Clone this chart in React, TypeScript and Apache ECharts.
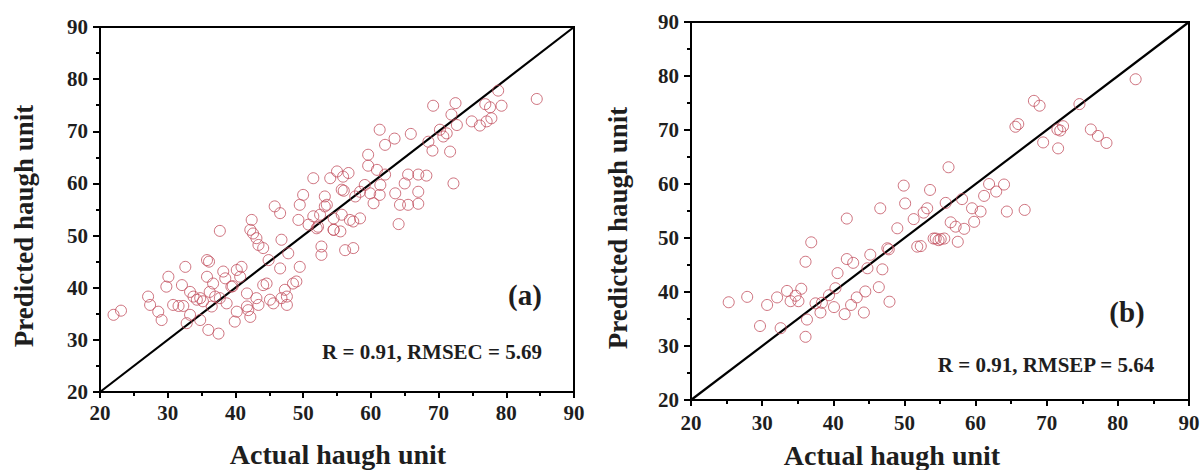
import React, { useEffect, useRef } from "react";
import * as echarts from "echarts";

// Calibration set (a): actual vs predicted Haugh unit
const calActual = [
  22.0, 23.1, 27.1, 27.4, 28.6, 29.1, 29.8, 30.1, 30.8, 31.6, 32.3, 32.1, 32.6, 32.8, 33.3, 33.8,
  34.3, 34.8, 35.2, 33.3, 34.8, 35.8, 36.1, 35.8, 36.0, 37.5, 37.7, 36.7, 36.2, 36.5, 38.2, 38.5,
  37.0, 37.7, 38.7, 39.4, 39.6, 39.9, 40.2, 40.9, 40.7, 40.2, 41.7, 41.7, 41.9, 42.2, 42.4, 42.2,
  42.6, 43.1, 43.4, 44.1, 43.1, 43.4, 44.1, 44.6, 44.9, 45.1, 45.6, 45.8, 46.6, 46.6, 46.8, 46.8,
  47.3, 47.6, 47.6, 47.8, 48.5, 49.0, 49.5, 49.3, 49.5, 50.0, 51.5, 50.8, 51.5, 52.0, 52.7, 52.7,
  53.2, 53.5, 54.0, 54.5, 55.0, 55.9, 56.7, 59.6, 59.6, 60.9, 62.1, 61.3, 62.1, 63.5, 65.9, 69.2,
  72.5, 71.9, 68.5, 69.1, 70.2, 70.7, 71.2, 72.7, 71.7, 74.9, 76.1, 77.1, 77.8, 76.9, 77.6, 78.8,
  79.3, 84.5, 72.2, 68.2, 67.0, 65.5, 65.0, 67.0, 67.0, 65.5, 64.3, 63.6, 64.1, 61.4, 61.3, 60.4,
  59.9, 59.1, 58.4, 57.7, 58.4, 57.4, 56.9, 55.7, 55.5, 54.5, 54.5, 52.5, 52.2, 53.2, 56.2, 57.4,
  55.7, 56.0,
];
const calPredicted = [
  34.8, 35.6, 38.3, 36.7, 35.4, 33.8, 40.2, 42.1, 36.7, 36.5, 36.5, 40.5, 44.0, 33.2, 39.2, 38.3,
  37.7, 38.0, 37.4, 34.8, 33.8, 45.3, 45.0, 42.1, 31.9, 31.2, 50.9, 40.8, 39.2, 36.4, 43.1, 41.8,
  38.3, 38.0, 37.0, 40.2, 40.3, 33.5, 43.4, 44.0, 42.1, 35.4, 38.9, 36.4, 35.7, 34.4, 53.0, 51.1,
  50.4, 49.5, 48.2, 47.6, 38.0, 36.7, 40.5, 40.8, 45.3, 37.7, 37.0, 55.6, 54.3, 43.7, 49.2, 38.0,
  39.6, 38.3, 36.7, 46.6, 40.8, 41.2, 44.0, 53.0, 55.9, 57.8, 61.0, 52.1, 53.7, 51.4, 46.3, 47.9,
  57.5, 55.9, 61.0, 51.1, 62.3, 61.3, 62.0, 65.5, 63.4, 62.6, 61.7, 70.3, 67.4, 68.6, 69.5, 74.9,
  75.4, 73.2, 68.0, 66.3, 70.3, 69.0, 69.6, 71.2, 66.1, 71.9, 71.1, 71.9, 72.5, 75.2, 74.6, 77.8,
  74.9, 76.2, 60.0, 61.5, 61.7, 61.7, 60.0, 58.4, 56.1, 55.9, 55.9, 58.1, 52.2, 59.7, 57.8, 56.2,
  58.1, 59.7, 58.4, 57.5, 53.3, 52.7, 53.0, 54.0, 50.8, 51.1, 53.3, 54.0, 51.7, 55.6, 47.2, 47.6,
  58.8, 58.6,
];

// Prediction set (b): actual vs predicted Haugh unit
const valActual = [
  25.3, 27.9, 29.7, 30.7, 32.1, 32.6, 33.5, 34.0, 34.7, 35.1, 35.5, 36.1, 36.3, 36.1, 36.9, 37.5,
  38.2, 38.4, 39.4, 40.1, 40.3, 40.6, 41.6, 41.9, 42.8, 42.5, 43.3, 44.3, 44.5, 44.8, 45.2, 46.4,
  46.9, 47.8, 47.9, 49.0, 41.9, 46.6, 49.9, 50.1, 51.3, 52.7, 53.2, 53.6, 51.8, 54.1, 54.8, 47.6,
  82.5, 68.2, 69.0, 74.6, 65.6, 66.0, 71.5, 72.3, 71.9, 69.5, 71.6, 76.2, 77.2, 78.4, 56.2, 55.8,
  58.1, 61.9, 64.0, 62.9, 61.2, 59.5, 60.7, 64.4, 66.9, 59.8, 58.4, 56.5, 57.2, 54.4, 55.1, 55.6,
  57.5, 52.3,
];
const valPredicted = [
  38.1, 39.1, 33.7, 37.6, 39.0, 33.3, 40.2, 38.3, 39.3, 38.3, 40.6, 45.6, 34.9, 31.7, 49.2, 37.9,
  36.2, 38.0, 39.4, 37.2, 40.7, 43.5, 35.9, 46.1, 45.4, 37.6, 39.0, 36.2, 40.1, 44.4, 46.9, 40.9,
  44.2, 47.9, 38.2, 51.8, 53.6, 55.5, 59.7, 56.4, 53.5, 54.7, 55.5, 58.9, 48.4, 49.9, 49.6, 48.1,
  79.4, 75.4, 74.5, 74.8, 70.6, 71.1, 70.1, 70.7, 69.9, 67.7, 66.6, 70.1, 68.9, 67.6, 63.1, 56.5,
  57.2, 60.0, 59.9, 58.6, 57.8, 55.5, 54.9, 54.9, 55.2, 53.0, 51.7, 52.9, 52.1, 49.9, 49.8, 49.9,
  49.3, 48.5,
];

const axisTicks = [20, 30, 40, 50, 60, 70, 80, 90];
const identityLine = [
  [20, 20],
  [90, 90],
];

const SERIF = "'Liberation Serif', 'Times New Roman', serif";
const MARK_COLOR = "#c24f5e";
const TEXT_COLOR = "#1e1e1e";

function zip(xs: number[], ys: number[]) {
  return xs.map((x, i) => [x, ys[i]]);
}

function makeAxis(gridIndex: number, labelMargin: number, isY: boolean) {
  return {
    type: "value",
    gridIndex,
    min: axisTicks[0],
    max: axisTicks[axisTicks.length - 1],
    interval: 10,
    axisLine: { show: true, lineStyle: { color: "#000", width: 2 } },
    axisTick: { show: true, inside: false, length: isY ? 7 : 6, lineStyle: { color: "#000", width: 2 } },
    minorTick: { show: true, splitNumber: 2, length: 4, lineStyle: { color: "#000", width: 2 } },
    splitLine: { show: false },
    axisLabel: {
      margin: labelMargin,
      color: TEXT_COLOR,
      fontFamily: SERIF,
      fontWeight: "bold",
      fontSize: 21,
    },
  };
}

function txt(text: string, x: number, y: number, size: number, rotation = 0) {
  return {
    type: "text",
    x,
    y,
    rotation,
    style: {
      text,
      fill: TEXT_COLOR,
      font: `bold ${size}px ${SERIF}`,
      textAlign: "center",
      textVerticalAlign: "middle",
      align: "center",
      verticalAlign: "middle",
    },
  };
}

export default function App() {
  const ref = useRef<HTMLDivElement>(null);

  useEffect(() => {
    if (!ref.current) return;
    const chart = echarts.init(ref.current, null, { renderer: "svg" });
    const grids = [
      { left: 100, top: 27, width: 474, height: 365 },
      { left: 691, top: 22, width: 498, height: 378 },
    ];
    chart.setOption({
      animation: false,
      backgroundColor: "#fff",
      grid: grids.map((g) => ({ ...g, show: true, borderColor: "#000", borderWidth: 2, backgroundColor: "transparent" })),
      xAxis: [makeAxis(0, 10, false), makeAxis(1, 12, false)],
      yAxis: [makeAxis(0, 12, true), makeAxis(1, 12, true)],
      series: [
        {
          type: "line",
          xAxisIndex: 0,
          yAxisIndex: 0,
          data: identityLine,
          symbol: "none",
          lineStyle: { color: "#000", width: 2.2 },
          z: 1,
        },
        {
          type: "scatter",
          xAxisIndex: 0,
          yAxisIndex: 0,
          data: zip(calActual, calPredicted),
          symbol: "circle",
          symbolSize: 11,
          itemStyle: { color: "transparent", borderColor: MARK_COLOR, borderWidth: 1 },
          z: 2,
        },
        {
          type: "line",
          xAxisIndex: 1,
          yAxisIndex: 1,
          data: identityLine,
          symbol: "none",
          lineStyle: { color: "#000", width: 2.2 },
          z: 1,
        },
        {
          type: "scatter",
          xAxisIndex: 1,
          yAxisIndex: 1,
          data: zip(valActual, valPredicted),
          symbol: "circle",
          symbolSize: 11,
          itemStyle: { color: "transparent", borderColor: MARK_COLOR, borderWidth: 1 },
          z: 2,
        },
      ],
      graphic: [
        txt("Actual haugh unit", 338, 454, 28),
        txt("Predicted haugh unit", 24, 226, 27, Math.PI / 2),
        txt("(a)", 525, 295, 29),
        txt("R = 0.91, RMSEC = 5.69", 432, 352, 21),
        txt("Actual haugh unit", 892, 455, 28),
        txt("Predicted haugh unit", 618, 228, 27, Math.PI / 2),
        txt("(b)", 1127, 312, 29),
        txt("R = 0.91, RMSEP = 5.64", 1046, 365, 21),
      ],
    });
    return () => chart.dispose();
  }, []);

  return (
    <div
      ref={ref}
      style={{ position: "fixed", left: 0, top: 0, width: 1203, height: 470, background: "#fff" }}
    />
  );
}
